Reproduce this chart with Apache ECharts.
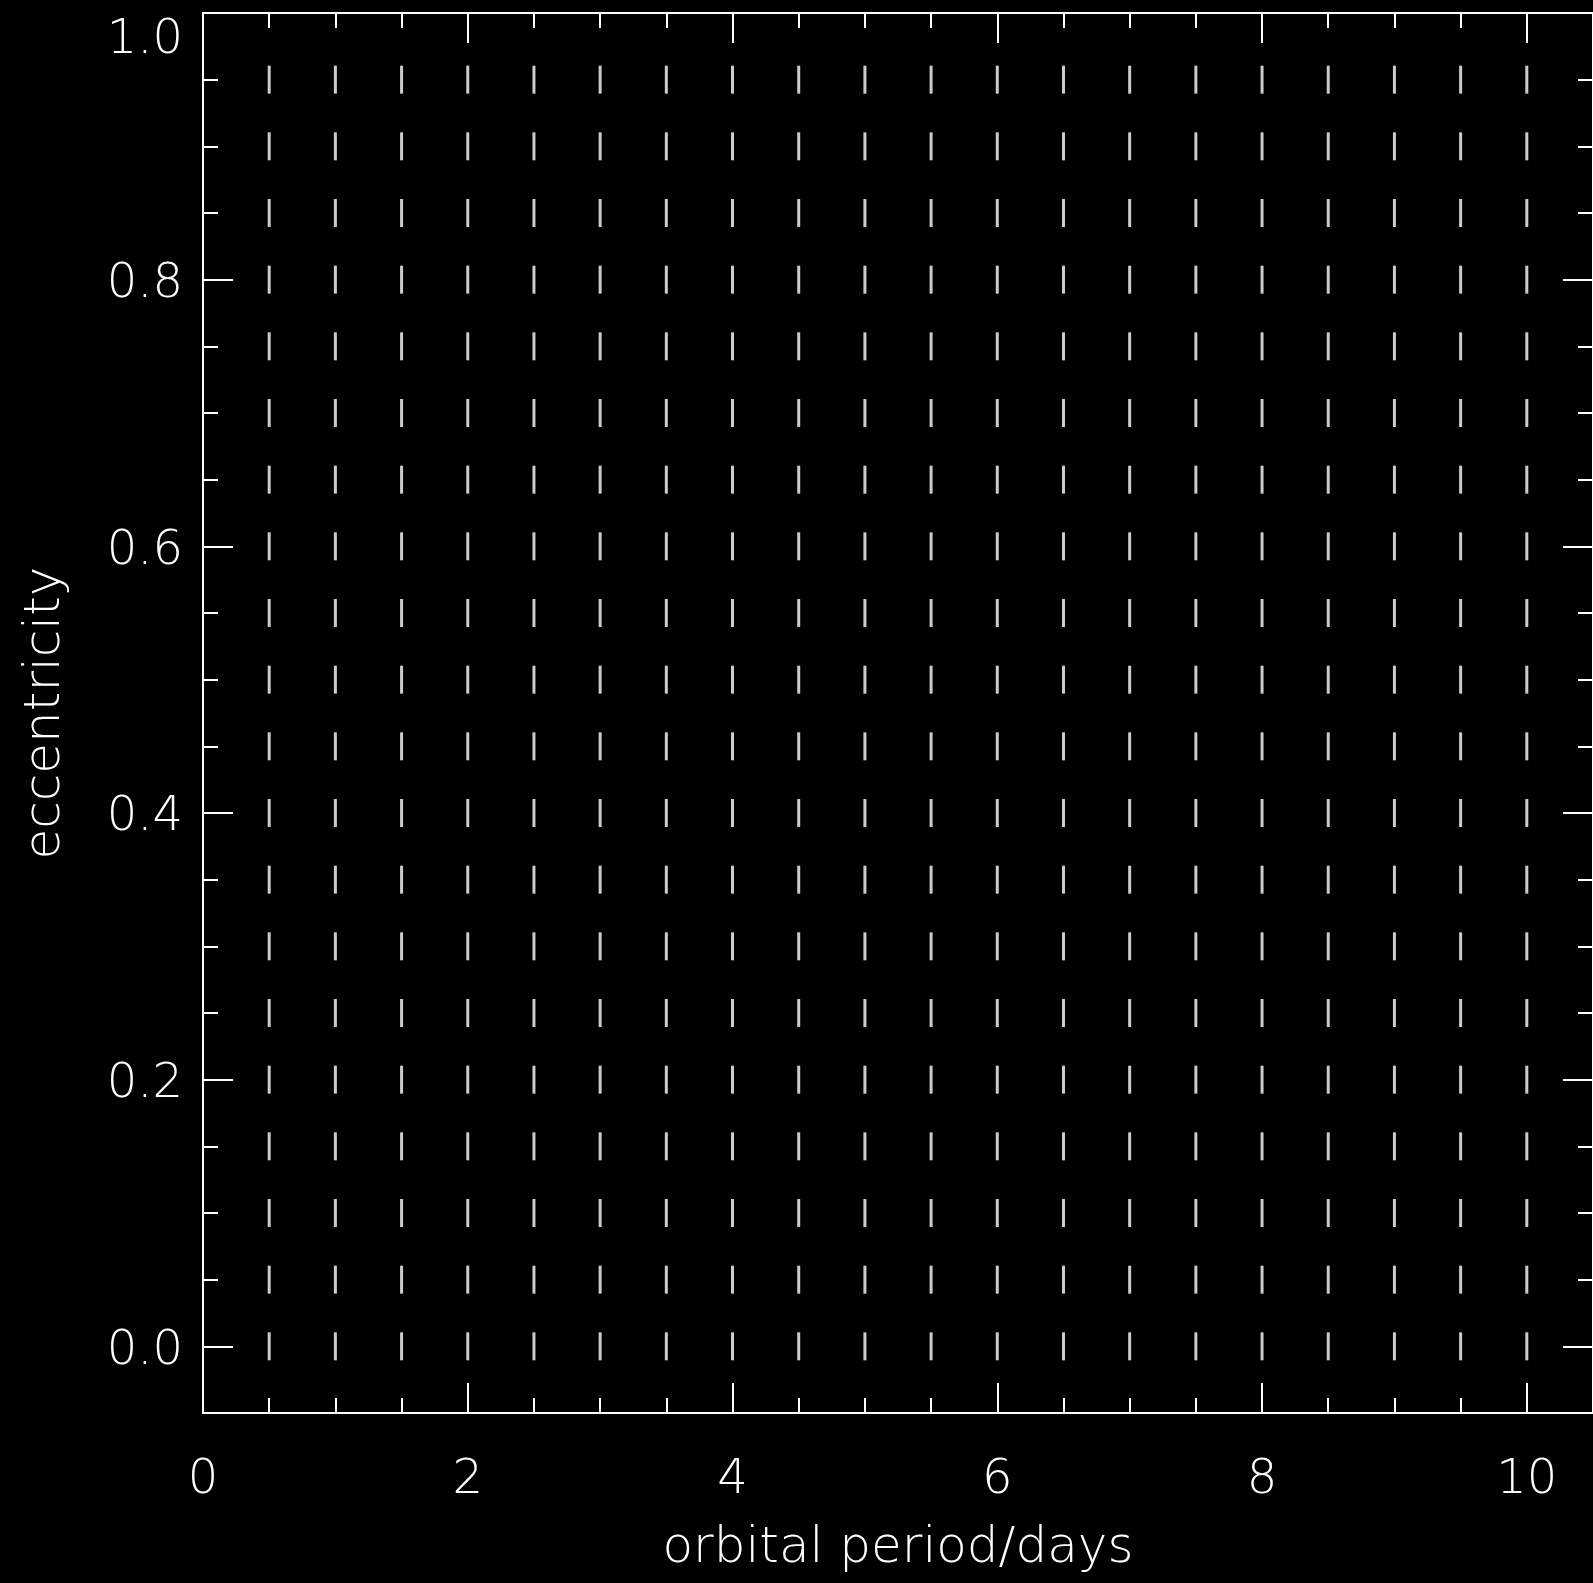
<!DOCTYPE html>
<html>
<head>
<meta charset="utf-8">
<script src="https://cdn.jsdelivr.net/npm/echarts@6/dist/echarts.min.js"></script>
<style>
  html, body { margin: 0; padding: 0; background: #000; }
  #chart { width: 1593px; height: 1583px; }
</style>
</head>
<body>
<div id="chart"></div>
<script>
// Sampled orbital periods (days) and eccentricities of the grid
const periods = [0.5, 1.0, 1.5, 2.0, 2.5, 3.0, 3.5, 4.0, 4.5, 5.0,
                 5.5, 6.0, 6.5, 7.0, 7.5, 8.0, 8.5, 9.0, 9.5, 10.0];
const eccentricities = [0.00, 0.05, 0.10, 0.15, 0.20, 0.25, 0.30, 0.35, 0.40, 0.45,
                        0.50, 0.55, 0.60, 0.65, 0.70, 0.75, 0.80, 0.85, 0.90, 0.95];

// Axis ranges and tick positions
const xRange = [0, 10.5];
const yRange = [-0.05, 1.0];
const xMajorTicks = [0, 2, 4, 6, 8, 10];
const xMinorTicks = [0.5, 1, 1.5, 2.5, 3, 3.5, 4.5, 5, 5.5, 6.5, 7, 7.5, 8.5, 9, 9.5, 10.5];
const yMajorTicks = [0.0, 0.2, 0.4, 0.6, 0.8, 1.0];
const yMinorTicks = [0.05, 0.10, 0.15, 0.25, 0.30, 0.35, 0.45, 0.50, 0.55,
                     0.65, 0.70, 0.75, 0.85, 0.90, 0.95];

const points = [];
periods.forEach(p => eccentricities.forEach(e => points.push([p, e])));

const FG = '#ffffff';
const FONT = "'DejaVu Sans', 'Liberation Sans', sans-serif";
const LABEL_SIZE = 48;
const NAME_SIZE = 50;
const line = { show: true, onZero: false, lineStyle: { color: FG, width: 2 } };
const noLine = { show: false, onZero: false };

function xAxisDef(position, major, withLabels) {
  return {
    type: 'value', position, min: xRange[0], max: xRange[1],
    axisLine: major ? line : noLine,
    splitLine: { show: false },
    axisTick: {
      show: true, inside: true, length: major ? 30 : 15,
      customValues: major ? xMajorTicks : xMinorTicks,
      lineStyle: { color: FG, width: 2 }
    },
    axisLabel: withLabels ? {
      show: true, customValues: xMajorTicks, color: FG, fontSize: LABEL_SIZE,
      fontFamily: FONT, fontWeight: 200, margin: 44,
      formatter: v => String(v)
    } : { show: false },
    name: withLabels ? 'orbital period/days' : '',
    nameLocation: 'middle', nameGap: 111,
    nameTextStyle: { color: FG, fontSize: NAME_SIZE, fontFamily: FONT, fontWeight: 200 }
  };
}

function yAxisDef(position, major, withLabels) {
  return {
    type: 'value', position, min: yRange[0], max: yRange[1],
    axisLine: major ? line : noLine,
    splitLine: { show: false },
    axisTick: {
      show: true, inside: true, length: major ? 30 : 15,
      customValues: major ? yMajorTicks : yMinorTicks,
      lineStyle: { color: FG, width: 2 }
    },
    axisLabel: withLabels ? {
      show: true, customValues: yMajorTicks, color: FG, fontSize: LABEL_SIZE,
      fontFamily: FONT, fontWeight: 200, margin: 20,
      // the top label sits a little below its tick
      formatter: v => v >= 1 ? '{top|' + v.toFixed(1) + '}' : '{std|' + v.toFixed(1) + '}',
      rich: {
        std: { fontSize: LABEL_SIZE, fontFamily: FONT, fontWeight: 200, color: FG, padding: [10, 0, 0, 0] },
        top: { fontSize: LABEL_SIZE, fontFamily: FONT, fontWeight: 200, color: FG, padding: [56, 0, 0, 0] }
      }
    } : { show: false },
    name: withLabels ? 'eccentricity' : '',
    nameLocation: 'middle', nameGap: 132,
    nameTextStyle: { color: FG, fontSize: NAME_SIZE, fontFamily: FONT, fontWeight: 200 }
  };
}

const chart = echarts.init(document.getElementById('chart'), null, { renderer: 'canvas' });
chart.setOption({
  backgroundColor: '#000',
  animation: false,
  grid: { left: 203, top: 13, width: 1402, height: 1400, containLabel: false },
  xAxis: [
    xAxisDef('bottom', true, true),
    xAxisDef('bottom', false, false),
    xAxisDef('top', true, false),
    xAxisDef('top', false, false)
  ],
  yAxis: [
    yAxisDef('left', true, true),
    yAxisDef('left', false, false),
    yAxisDef('right', true, false),
    yAxisDef('right', false, false)
  ],
  series: [{
    type: 'scatter',
    xAxisIndex: 0, yAxisIndex: 0,
    data: points,
    symbol: 'rect',
    symbolSize: [3, 28],
    itemStyle: { color: FG },
    silent: true
  }]
});
</script>
</body>
</html>
